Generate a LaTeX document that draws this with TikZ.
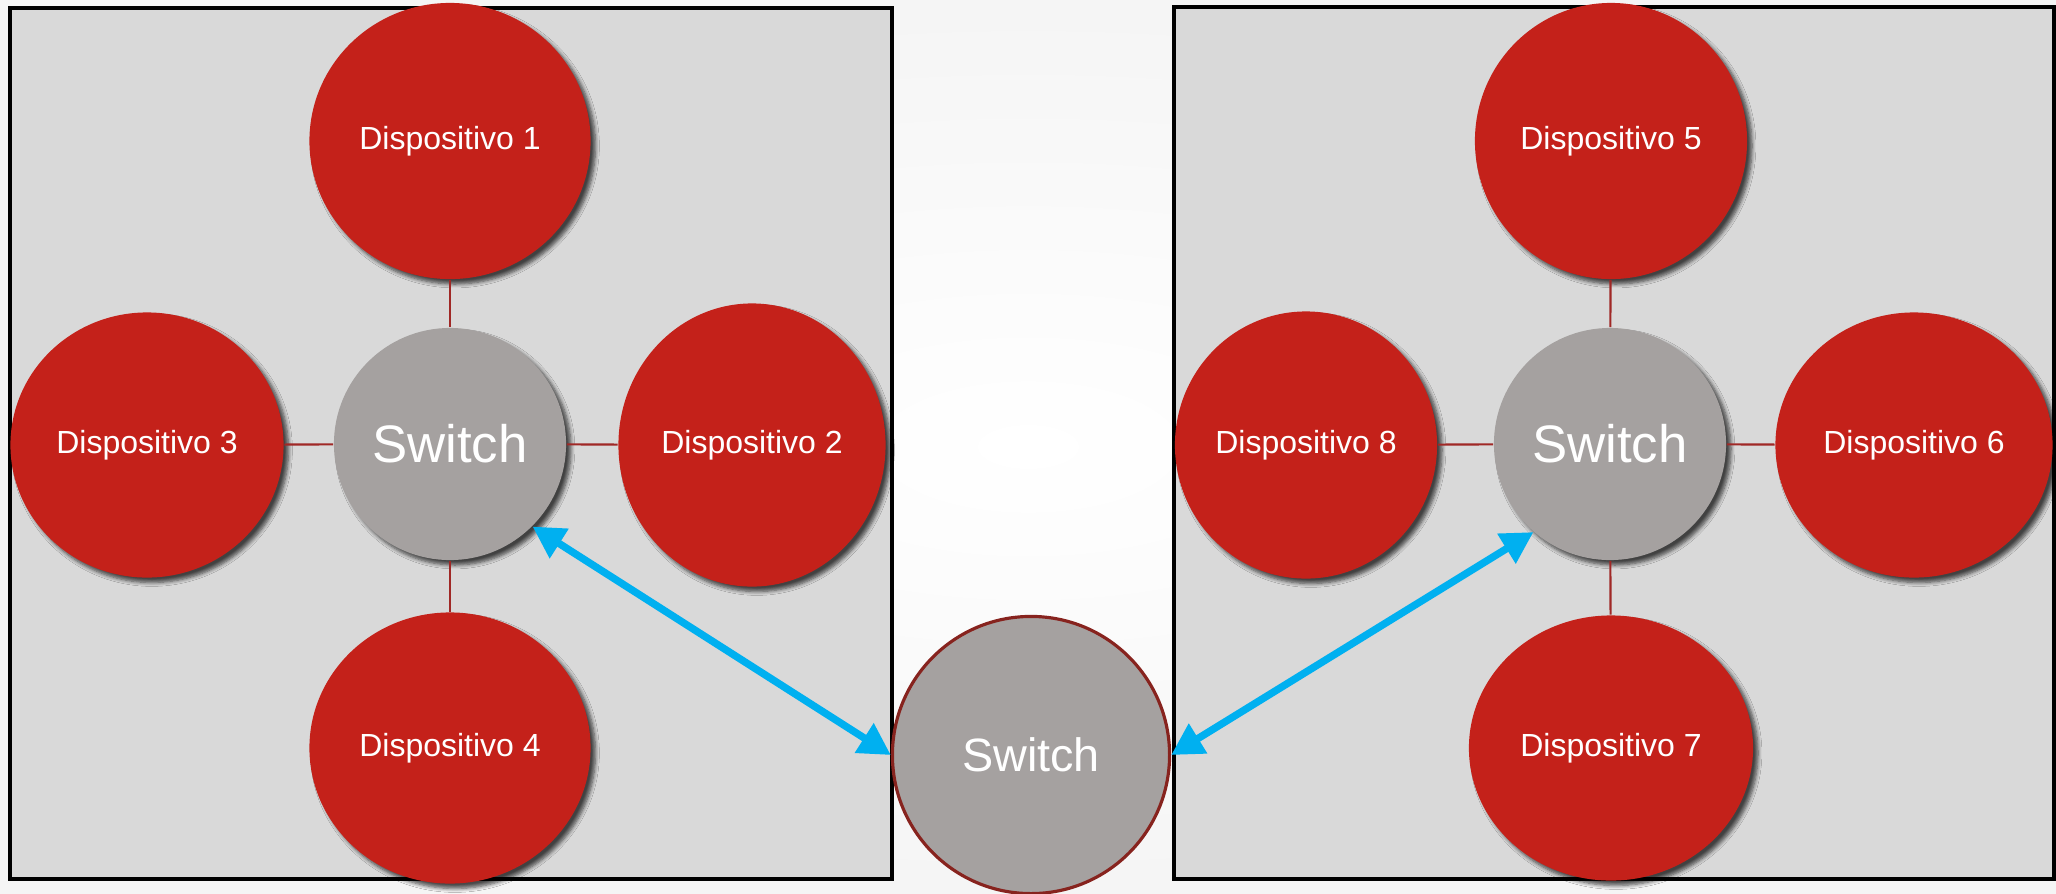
\documentclass[tikz,border=0pt]{standalone}
\usepackage{fontspec}
\setmainfont{Liberation Sans}
\usetikzlibrary{shapes.geometric,arrows.meta,shadows.blur}
\definecolor{devRed}{RGB}{196,33,26}
\definecolor{linkRed}{RGB}{160,40,38}
\definecolor{rimRed}{RGB}{135,35,30}
\definecolor{swGrey}{RGB}{165,161,160}
\definecolor{boxGrey}{RGB}{217,217,217}
\definecolor{trunkBlue}{RGB}{0,176,240}
\tikzset{x=0.01cm, y=-0.01cm,
    softShadow/.style={blur shadow={shadow xshift=1.4pt, shadow yshift=-1.4pt,
        shadow blur radius=1.1pt, shadow blur steps=6, shadow opacity=70}},
    device/.style={ellipse, fill=devRed, text=white, inner sep=0pt,
        font=\fontsize{9.1}{11}\selectfont, softShadow},
    switch/.style={circle, fill=swGrey, text=white, inner sep=0pt,
        minimum size=2.32cm, font=\fontsize{15}{17}\selectfont, softShadow},
    lan/.style={fill=boxGrey, draw=black, line width=1pt},
    link/.style={draw=linkRed, line width=0.6pt},
    trunk/.style={draw=trunkBlue, line width=2.1pt,
        {Triangle[length=9pt,width=9.5pt]}-{Triangle[length=9pt,width=9.5pt]}},
    }
\begin{document}
\begin{tikzpicture}
	\useasboundingbox (0,0) rectangle (2056,893);
	\shade[inner color=white, outer color=gray!8] (0,0) rectangle (2056,893);
	% the two LANs
	\draw[lan] (10,8) rectangle (892,879);
	\draw[lan] (1174,7) rectangle (2054,879);

	% left star
	\node[switch] (leftSwitch) at (450,444) {Switch};
	\node[device, minimum width=2.81cm, minimum height=2.76cm] (devA) at (450,141) {Dispositivo 1};
	\node[device, minimum width=2.67cm, minimum height=2.83cm] (devB) at (752,445) {Dispositivo 2};
	\node[device, minimum width=2.73cm, minimum height=2.65cm] (devC) at (147,445) {Dispositivo 3};
	\node[device, minimum width=2.81cm, minimum height=2.71cm] (devD) at (450,748) {Dispositivo 4};

	% right star
	\node[switch] (rightSwitch) at (1610,444) {Switch};
	\node[device, minimum width=2.72cm, minimum height=2.76cm] (devE) at (1611,141) {Dispositivo 5};
	\node[device, minimum width=2.77cm, minimum height=2.65cm] (devF) at (1914,445) {Dispositivo 6};
	\node[device, minimum width=2.84cm, minimum height=2.65cm] (devG) at (1611,748) {Dispositivo 7};
	\node[device, minimum width=2.62cm, minimum height=2.67cm] (devH) at (1306,445) {Dispositivo 8};

	% switch between the LANs
	\node[circle, fill=swGrey, draw=rimRed, line width=0.9pt, text=white, inner sep=0pt,
		minimum size=2.77cm, font=\fontsize{13.3}{15}\selectfont] (centerSwitch) at (1031,755) {Switch};

	\foreach \dev in {devA,devB,devC,devD}
		\draw[link] (leftSwitch) -- (\dev);
	\foreach \dev in {devE,devF,devG,devH}
		\draw[link] (rightSwitch) -- (\dev);

	\draw[trunk] (leftSwitch.-45) -- (centerSwitch.west);
	\draw[trunk] (rightSwitch.229) -- (centerSwitch.east);
\end{tikzpicture}
\end{document}
